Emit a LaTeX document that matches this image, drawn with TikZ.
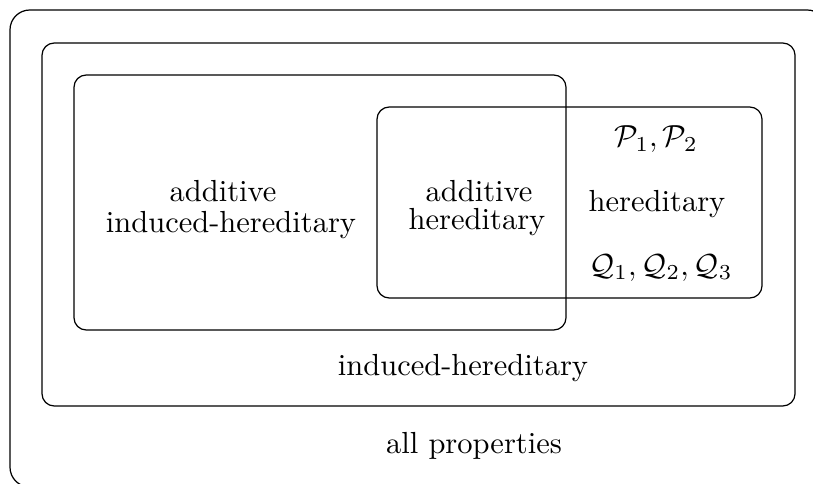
\documentclass[tikz,border=0pt]{standalone}
\usepackage{amsmath}
\begin{document}
\begin{tikzpicture}[x=0.3279pt,y=-0.3279pt,
  region/.style={draw,line width=0.4pt,rounded corners=4pt},
  lbl/.style={anchor=base,inner sep=0pt,font=\fontsize{10}{12}\selectfont}]
\clip (0,0) rectangle (813,483);
\draw[region,rounded corners=6.5pt] (10,10) rectangle (827,487);
\draw[region] (42,43) rectangle (795,406);
\draw[region] (74,75) rectangle (566,330);
\draw[region] (377,107) rectangle (762,298);
\node[lbl] (a1) at (223,202) {additive};
\node[lbl] (a2) at (231,232) {induced-hereditary};
\node[lbl] (b1) at (479,202) {additive};
\node[lbl] (b2) at (477,230) {hereditary};
\node[lbl] (p) at (656,147) {$\mathcal{P}_1,\mathcal{P}_2$};
\node[lbl] (h) at (657,212) {hereditary};
\node[lbl] (q) at (661,275) {$\mathcal{Q}_1,\mathcal{Q}_2,\mathcal{Q}_3$};
\node[lbl] (ih) at (463,375) {induced-hereditary};
\node[lbl] (all) at (474,453) {all properties};
\end{tikzpicture}
\end{document}
